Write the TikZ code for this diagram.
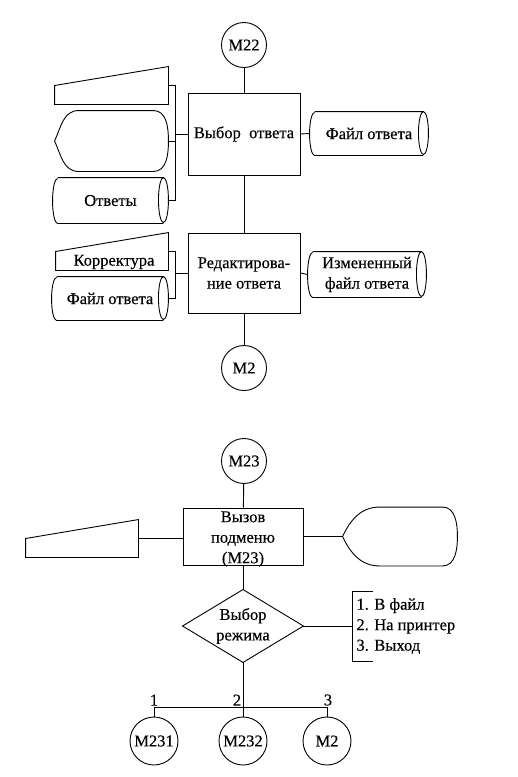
\documentclass[tikz,border=0pt]{standalone}
\usepackage{fontspec}
\setmainfont{Liberation Serif}
\newfontfamily\dfam{Liberation Serif}[FakeBold=0.35]
\usetikzlibrary{calc}
\newcommand\dfont{\dfam\fontsize{16.5}{20.5}\selectfont}
\newcommand\mkmanin[1]{\draw (#1.south west) -- (#1.south east) -- (#1.north east) -- (#1.west) -- cycle;}
\newcommand\mkdisp[2]{\draw (#1.west) to[out=65,in=180] ($(#1.north west)+(#2,0)$) -- ($(#1.north east)+(-15,0)$) to[out=0,in=90] (#1.east) to[out=-90,in=0] ($(#1.south east)+(-15,0)$) -- ($(#1.south west)+(#2,0)$) to[out=180,in=-65] (#1.west);}
\newcommand\mkcyl[2]{\draw ($(#1.north west)+(5,0)$) -- ($(#1.north east)+(-5,0)$) arc[start angle=90,end angle=-270,x radius=5pt,y radius=#2pt];
  \draw ($(#1.south east)+(-5,0)$) -- ($(#1.south west)+(5,0)$) arc[start angle=270,end angle=90,x radius=5pt,y radius=#2pt];}
\newcommand\mkdiam[1]{\draw (#1.north) -- (#1.east) -- (#1.south) -- (#1.west) -- cycle;}
\tikzset{
  blk/.style={draw, rectangle, inner sep=1pt, align=center, font=\dfont},
  mcirc/.style={draw, circle, inner sep=0pt, minimum size=#1, font=\dfont},
  shp/.style={rectangle, inner sep=0pt, align=center, font=\dfont},
  txt/.style={inner sep=0pt, align=center, font=\dfont},
}
\begin{document}
\begin{tikzpicture}[x=1pt,y=1pt,line width=0.9pt]
\useasboundingbox (0,0) rectangle (518,-777);
% ---------- upper part ----------
\node[mcirc=45pt] (M22) at (244,-45) {M22};
\node[blk, minimum width=112pt, minimum height=82pt] (B1) at (244,-134) {Выбор~~ответа};
\node[blk, minimum width=112pt, minimum height=80pt] (B2) at (244,-273) {Редактирова-\\ние ответа};
\node[mcirc=45pt] (M2a) at (244,-368) {M2};
\draw (M22) -- (B1);
\draw (B1) -- (B2);
\draw (B2) -- (M2a);

\node[shp, minimum width=113pt, minimum height=37pt] (T1) at (111.5,-85.5) {};
\mkmanin{T1}
\node[shp, minimum width=113pt, minimum height=60pt] (D1) at (111.5,-141) {};
\mkdisp{D1}{24}
\node[shp, minimum width=115pt, minimum height=45pt] (C1) at (110.5,-200.5) {Ответы};
\mkcyl{C1}{22.5}
\draw (T1.east) -- ++(7,0) |- (C1.east);
\draw (D1.east) -- ++(7,0);
\draw (B1.west) -- ++(-13,0);

\node[shp, minimum width=118pt, minimum height=43pt] (C2) at (369,-133.5) {Файл ответа};
\mkcyl{C2}{21.5}
\draw (B1.east) -- (C2.west);

\node[shp, minimum width=112pt, minimum height=37pt] (T2) at (112,-251.5) {};
\mkmanin{T2}
\node[txt] (T2t) at (114,-262) {Корректура};
\node[shp, minimum width=116pt, minimum height=43pt] (C3) at (110,-298.5) {Файл ответа};
\mkcyl{C3}{21.5}
\draw (T2.east) -- ++(7,0) |- (C3.east);
\draw (B2.west) -- ++(-13,0);

\node[shp, minimum width=118pt, minimum height=45pt] (C4) at (367,-274.5) {Измененный\\файл ответа};
\mkcyl{C4}{22.5}
\draw (B2.east) -- (C4.west);

% ---------- lower part ----------
\node[mcirc=45pt] (M23) at (244,-461) {M23};
\node[blk, minimum width=120pt, minimum height=57pt] (B3) at (243,-536.5) {};
\node[txt] (B3t) at (243,-539) {Вызов\\подменю\\(M23)};
\draw (M23) -- (B3);

\node[shp, minimum width=112pt, minimum height=37pt] (T3) at (82,-538.5) {};
\mkmanin{T3}
\draw (T3.east) -- (B3.west |- T3.east);

\node[shp, minimum width=114pt, minimum height=58pt] (D3) at (400,-536.5) {};
\mkdisp{D3}{37}
\draw (B3.east) -- (D3.west);

\node[shp, minimum width=120pt, minimum height=72pt] (DM) at (243,-626) {Выбор\\режима};
\mkdiam{DM}
\draw (B3.south) -- (DM.north);

\coordinate (mb) at (352,-626);
\draw (373,-591) -- (352,-591) -- (352,-661) -- (373,-661);
\draw (DM.east) -- (mb);
\node[txt, align=left, anchor=west] (menu) at (356,-626) {1. В файл\\2. На принтер\\3. Выход};

\node[mcirc=48pt] (M231) at (154,-741) {M231};
\node[mcirc=48pt] (M232) at (243,-741) {M232};
\node[mcirc=48pt] (M2b) at (327,-741) {M2};
\coordinate (busL) at (154,-707);
\coordinate (busM) at (243,-707);
\coordinate (busR) at (327,-707);
\draw (busL) -- (busR);
\draw (DM.south) -- (M232.north);
\draw (busL) -- (M231.north);
\draw (busR) -- (M2b.north);
\node[txt, anchor=south] (n1) at (154,-706) {1};
\node[txt, anchor=south] (n2) at (237,-706) {2};
\node[txt, anchor=south] (n3) at (328,-706) {3};
\end{tikzpicture}
\end{document}
